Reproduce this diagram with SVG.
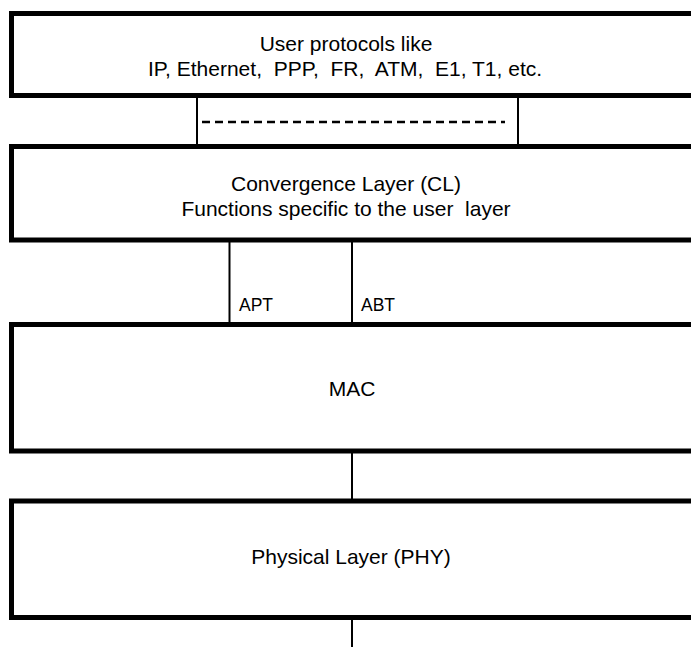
<svg xmlns="http://www.w3.org/2000/svg" width="691" height="647" viewBox="0 0 691 647">
  <style>
    .layer { fill: #ffffff; stroke: #000000; stroke-width: 5; }
    .link { stroke: #000000; stroke-width: 2; fill: none; }
    .dash { stroke: #000000; stroke-width: 2.5; stroke-dasharray: 8 5; fill: none; }
    text { font-family: "Liberation Sans", Arial, sans-serif; font-size: 21px; fill: #000000; white-space: pre; }
    .c { text-anchor: middle; }
    .tag { font-size: 17.5px; }
  </style>
  <rect width="691" height="647" fill="#ffffff"/>

  <!-- connectors between layers -->
  <g id="connectors">
    <line class="link" x1="197" y1="97" x2="197" y2="145"/>
    <line class="link" x1="518" y1="97" x2="518" y2="145"/>
    <line class="dash" x1="202" y1="122" x2="505" y2="122"/>
    <line class="link" x1="229.5" y1="241" x2="229.5" y2="323"/>
    <line class="link" x1="352" y1="241" x2="352" y2="323"/>
    <line class="link" x1="352" y1="452" x2="352" y2="500"/>
    <line class="link" x1="352" y1="619" x2="352" y2="647"/>
    <text class="tag" x="239" y="311">APT</text>
    <text class="tag" x="361" y="311">ABT</text>
  </g>

  <!-- layer boxes; right edges run past the canvas -->
  <g id="user-protocols">
    <rect class="layer" x="11.5" y="13.5" width="700" height="82"/>
    <text class="c" x="346" y="50.5">User protocols like</text>
    <text class="c" x="345" y="75.5">IP, Ethernet,  PPP,  FR,  ATM,  E1, T1, etc.</text>
  </g>
  <g id="convergence-layer">
    <rect class="layer" x="11.5" y="146.5" width="700" height="93.5"/>
    <text class="c" x="346" y="190.5">Convergence Layer (CL)</text>
    <text class="c" x="346" y="215.5">Functions specific to the user  layer</text>
  </g>
  <g id="mac">
    <rect class="layer" x="11.5" y="324.5" width="700" height="126.5"/>
    <text class="c" x="352" y="395.5">MAC</text>
  </g>
  <g id="phy">
    <rect class="layer" x="11.5" y="501" width="700" height="116.5"/>
    <text class="c" x="351" y="563.5">Physical Layer (PHY)</text>
  </g>
</svg>
